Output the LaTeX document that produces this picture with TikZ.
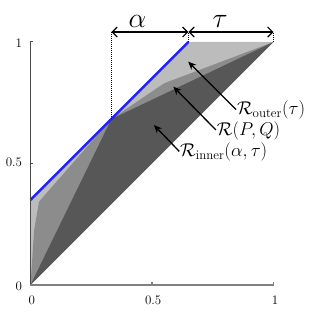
\RequirePackage{fix-cm}
\documentclass[tikz,border=0pt]{standalone}
\usetikzlibrary{arrows.meta}
\definecolor{lightR}{HTML}{BCBCBC}
\definecolor{midR}{HTML}{8C8C8C}
\definecolor{darkR}{HTML}{575757}
\definecolor{blueR}{HTML}{2222FF}
\definecolor{axisY}{HTML}{4A4A4A}
\definecolor{axisX}{HTML}{808080}
\begin{document}
\begin{tikzpicture}[x=243pt,y=243pt,
  ticklab/.style={font=\fontsize{13}{15}\selectfont, inner sep=0pt},
  reglab/.style={font=\fontsize{18.5}{21}\selectfont, inner sep=0pt, anchor=west},
  dimlab/.style={font=\fontsize{28}{30}\selectfont, inner sep=0pt},
  ptr/.style={-{Stealth[length=8pt,width=7pt]}, line width=1.3pt, shorten <=1pt},
  dimarrow/.style={{Straight Barb[length=5pt,width=10pt]}-{Straight Barb[length=5pt,width=10pt]}, line width=1.2pt},
  guide/.style={dash pattern=on 1pt off 1pt, line width=1.2pt}]
\useasboundingbox (-0.1255,-0.1235) rectangle (1.1708,1.1728);

\coordinate (O) at (0,0);
\coordinate (B0) at (0,0.35);
\coordinate (A) at (0.333,0.683);
\coordinate (Bend) at (0.65,1);
\coordinate (T) at (1,1);
\coordinate (X1) at (1,0);
\coordinate (Y1) at (0,1);

% regions
\fill[lightR] (O) -- (B0) -- (Bend) -- (T) -- cycle;
\fill[midR] (O) -- (0.015,0.226) -- (0.035,0.343) -- (A) -- (0.55,0.83) -- (T) -- cycle;
\fill[darkR] (O) -- (A) -- (T) -- cycle;
\draw[blueR, line width=2.4pt] (B0) -- (Bend);

% axes
\draw[axisY, line width=1pt] (O) -- (Y1) -- ++(3pt,0);
\draw[axisY, line width=1pt] (0,0.5) -- ++(3pt,0);
\draw[axisX, line width=1.5pt] (O) -- (X1) -- ++(0,3pt);
\draw[axisX, line width=1.2pt] (0.5,0) -- ++(0,3pt);

\node[ticklab, anchor=east] (ly1) at (-0.034,0.996) {1};
\node[ticklab, anchor=east] (ly5) at (-0.034,0.504) {0.5};
\node[ticklab, anchor=east] (ly0) at (-0.034,-0.004) {0};
\node[ticklab] (lx0) at (0.005,-0.062) {0};
\node[ticklab] (lx5) at (0.505,-0.062) {0.5};
\node[ticklab] (lx1) at (1.006,-0.062) {1};

% dimension lines
\coordinate (dA) at (0.333,1.041);
\coordinate (dM) at (0.65,1.041);
\coordinate (dT) at (1,1.041);
\draw[guide] (A) -- (dA);
\draw[guide] (Bend) -- (dM);
\draw[guide] (T) -- (dT);
\draw[dimarrow] (dA) -- (dM);
\draw[dimarrow] (dM) -- (dT);
\node[dimlab] (alab) at (0.44,1.084) {$\alpha$};
\node[dimlab] (tlab) at (0.78,1.086) {$\tau$};

% region labels
\node[reglab] (lo) at (0.849,0.719) {$\mathcal{R}_{\mathrm{outer}}(\tau)$};
\node[reglab] (lpq) at (0.766,0.635) {$\mathcal{R}(P,Q)$};
\node[reglab] (li) at (0.615,0.547) {$\mathcal{R}_{\mathrm{inner}}(\alpha,\tau)$};
\coordinate (tO) at (0.649,0.919);
\coordinate (tPQ) at (0.588,0.816);
\coordinate (tI) at (0.508,0.658);
\draw[ptr] (lo.west) -- (tO);
\draw[ptr] (lpq.west) -- (tPQ);
\draw[ptr] (li.west) -- (tI);
\end{tikzpicture}
\end{document}
